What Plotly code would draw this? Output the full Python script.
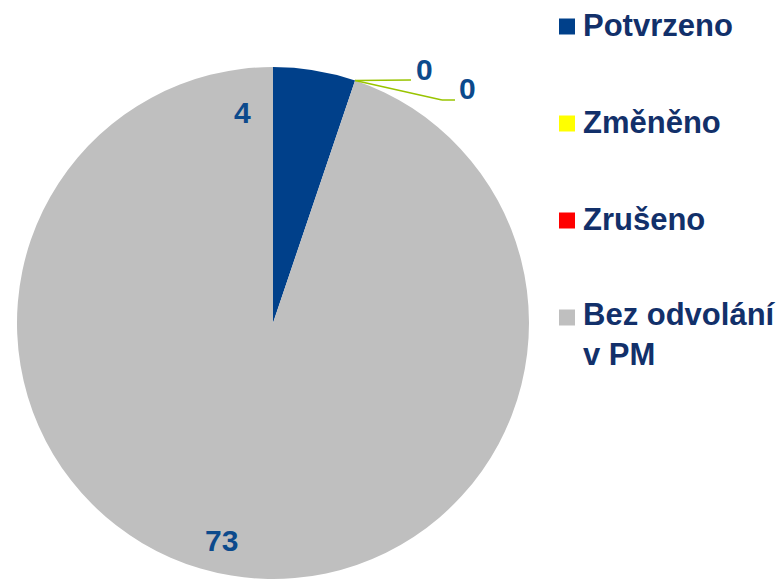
import math
import plotly.graph_objects as go

# ---- data ----
categories = ["Potvrzeno", "Změněno", "Zrušeno", "Bez odvolání v PM"]
legend_labels = ["Potvrzeno", "Změněno", "Zrušeno", "Bez odvolání<br>v PM"]
values = [4, 0, 0, 73]
colors = ["#00408a", "#ffff00", "#ff0000", "#bfbfbf"]

# page body has an 8px default margin; work in reference pixels and compensate
OFF = 8
W, H = 784 - OFF, 580 - OFF
CX, CY, R = 273, 323, 256          # pie centre / radius in reference pixels
LABEL_COLOR = "#0c4a8c"
LEGEND_COLOR = "#12306a"
LEADER_COLOR = "#99c400"
FONT = "Arial, Liberation Sans, sans-serif"


def px(x):
    return (x - OFF) / W


def py(y):
    return 1 - (y - OFF) / H


fig = go.Figure(
    go.Pie(
        labels=categories,
        values=values,
        marker=dict(colors=colors, line=dict(width=0)),
        sort=False,
        direction="clockwise",
        rotation=0,
        textinfo="none",
        hoverinfo="label+value",
        showlegend=False,
        domain=dict(x=[px(CX - R), px(CX + R)], y=[max(0, py(CY + R)), py(CY - R)]),
    )
)

# ---- data labels ----
label_pos = [(243, 113), (424, 69), (467, 88), (221, 540)]
annotations = []
for v, (lx, ly) in zip(values, label_pos):
    annotations.append(dict(
        x=px(lx), y=py(ly), xref="paper", yref="paper",
        text=str(v), showarrow=False, xanchor="center", yanchor="middle",
        font=dict(family=FONT, size=30, color=LABEL_COLOR, weight="bold"),
    ))

# leader lines for the zero slices, starting at the slice edge on the rim
total = sum(values)
shapes = []
cum = 0
leader_ends = {1: [(411, 80)], 2: [(442, 100), (455, 100)]}
for i, v in enumerate(values):
    mid = cum + v / 2
    cum += v
    if i in leader_ends:
        ang = mid / total * 2 * math.pi
        sx, sy = CX + R * math.sin(ang), CY - R * math.cos(ang)
        pts = [(sx, sy)] + leader_ends[i]
        for (x0, y0), (x1, y1) in zip(pts[:-1], pts[1:]):
            shapes.append(dict(type="line", xref="paper", yref="paper",
                               x0=px(x0), y0=py(y0), x1=px(x1), y1=py(y1),
                               line=dict(color=LEADER_COLOR, width=1.5)))

# ---- legend (custom, to match the wide spacing) ----
leg_x, leg_y0, leg_dy, sq = 559, 26.5, 97, 16
for i, (lab, col) in enumerate(zip(legend_labels, colors)):
    yc = leg_y0 + i * leg_dy
    shapes.append(dict(type="rect", xref="paper", yref="paper",
                       x0=px(leg_x), x1=px(leg_x + sq),
                       y0=py(yc - sq / 2), y1=py(yc + sq / 2),
                       fillcolor=col, line=dict(width=0)))
    multiline = "<br>" in lab
    annotations.append(dict(
        x=px(leg_x + sq + 7),
        y=py(yc - 22) if multiline else py(yc - 1),
        xref="paper", yref="paper",
        text=lab, showarrow=False, xanchor="left",
        yanchor="top" if multiline else "middle", align="left",
        font=dict(family=FONT, size=31, color=LEGEND_COLOR, weight="bold"),
        borderpad=0,
    ))

fig.update_layout(
    width=W, height=H,
    margin=dict(l=0, r=0, t=0, b=0),
    paper_bgcolor="white", plot_bgcolor="white",
    annotations=annotations, shapes=shapes,
)

fig.write_html("out.html")
